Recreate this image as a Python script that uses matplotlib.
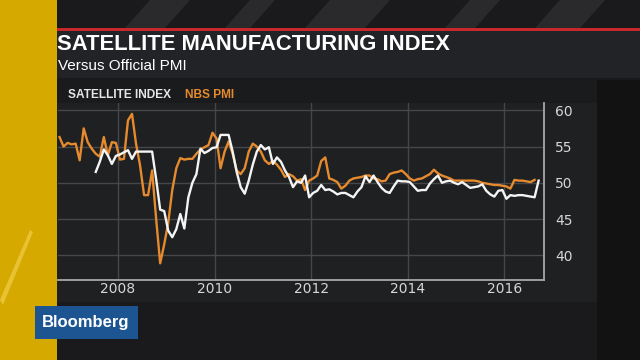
import numpy as np
import matplotlib as mpl
mpl.use('Agg')
import matplotlib.pyplot as plt
from matplotlib import font_manager
from matplotlib.patches import Rectangle, Polygon

# NBS PMI, monthly from Oct 2006 to Aug 2016
pmi_start = (2006, 10)
pmi = [56.3, 55.0, 55.5,
       55.3, 55.4, 53.1, 57.5, 55.6, 54.7, 54.0, 53.6, 56.3, 53.8, 55.6, 55.5,
       53.2, 53.3, 58.6, 59.5, 55.4, 52.4, 48.3, 48.3, 51.7, 45.0, 38.9, 41.5,
       44.5, 49.0, 52.0, 53.4, 53.2, 53.3, 53.3, 54.0, 54.6, 54.9, 55.2, 56.9,
       56.1, 52.0, 54.3, 55.7, 54.0, 51.7, 51.2, 52.0, 54.3, 55.4, 55.0, 54.3,
       53.1, 52.6, 53.0, 52.5, 51.8, 50.8, 51.2, 50.9, 50.3, 50.5, 49.0, 50.3,
       50.6, 51.0, 53.0, 53.5, 50.6, 50.4, 50.1, 49.2, 49.6, 50.3, 50.6, 50.7,
       50.8, 51.0, 51.0, 50.6, 50.5, 50.2, 50.3, 51.2, 51.4, 51.5, 51.7, 51.2,
       50.6, 50.3, 50.5, 50.6, 50.9, 51.2, 51.8, 51.3, 51.0, 50.8, 50.6, 50.3,
       50.3, 50.3, 50.3, 50.3, 50.3, 50.2, 50.0, 49.9, 49.8, 49.7, 49.7, 49.6,
       49.5, 49.2, 50.4, 50.3, 50.3, 50.2, 50.1, 50.4]

# Satellite manufacturing index, monthly from Jul 2007 to Sep 2016
sat_start = (2007, 7)
sat = [51.5, 52.9, 54.6, 53.8, 52.6, 53.7,
       53.9, 54.2, 54.5, 53.3, 54.3, 54.3, 54.3, 54.3, 54.3, 50.5, 46.3, 46.1,
       43.4, 42.5, 43.6, 45.7, 43.7, 48.0, 50.0, 51.2, 54.7, 54.1, 54.4, 54.8,
       54.9, 56.6, 56.6, 56.6, 54.3, 51.5, 49.4, 48.5, 50.3, 52.5, 54.3, 55.2,
       54.6, 54.9, 52.6, 53.5, 52.9, 51.7, 50.8, 49.4, 50.2, 50.0, 51.0, 48.0,
       48.6, 48.9, 49.7, 49.0, 49.1, 48.8, 48.4, 48.6, 48.6, 48.3, 48.0, 48.8,
       49.4, 50.9, 50.1, 51.0, 50.1, 49.3, 48.8, 48.6, 49.5, 50.3, 50.2, 50.2,
       50.1, 49.5, 48.9, 49.0, 49.0, 49.9, 50.5, 51.0, 50.0, 50.2, 50.3, 50.0,
       49.8, 50.1, 49.7, 49.3, 49.4, 49.5, 49.8, 48.9, 48.4, 48.1, 48.9, 49.0,
       47.8, 48.3, 48.2, 48.3, 48.3, 48.2, 48.1, 48.0, 50.3]

year_ticks = [2008, 2010, 2012, 2014, 2016]
value_ticks = [40, 45, 50, 55, 60]

title = "SATELLITE MANUFACTURING INDEX"
subtitle = "Versus Official PMI"
legend_labels = ["SATELLITE INDEX", "NBS PMI"]

def month_axis(start, n):
    # mid-month decimal years
    k = np.arange(n) + (start[1] - 1)
    return start[0] + (k + 0.5) / 12.0

names = set(f.name for f in font_manager.fontManager.ttflist)
narrow = 'Liberation Sans Narrow' if 'Liberation Sans Narrow' in names else 'Liberation Sans'

ORANGE = '#e58a2e'
WHITE = '#f4f4f4'
GRID = '#46474a'

fig = plt.figure(figsize=(6.4, 3.6), dpi=100)
fig.patch.set_facecolor('#1a1a1c')

# background layer in pixel coordinates
bg = fig.add_axes([0, 0, 1, 1])
bg.set_xlim(0, 640)
bg.set_ylim(360, 0)
bg.set_axis_off()

# top streaks
for x0, w in [(150, 40), (250, 25), (330, 60), (470, 30), (560, 45)]:
    bg.add_patch(Polygon([(x0, 0), (x0 + w, 0), (x0 + w - 25, 28), (x0 - 25, 28)],
                         closed=True, color='#2a2a2c', lw=0))
# right shade
bg.add_patch(Rectangle((597, 80), 43, 280, color='#121213', lw=0))
# title band
bg.add_patch(Rectangle((55, 29), 585, 49, color='#222326', lw=0))
bg.add_patch(Rectangle((55, 28), 585, 3, color='#c8282c', lw=0))
# chart panel
bg.add_patch(Rectangle((57, 80), 540, 222, color='#1f2022', lw=0))
bg.add_patch(Rectangle((57, 80), 540, 23, color='#1a1b1d', lw=0))
# yellow side bar
bg.add_patch(Rectangle((0, 0), 57, 360, color='#d5a900', lw=0))
bg.add_patch(Polygon([(0, 300), (30, 230), (33, 232), (3, 305)], closed=True,
                     color='#e8c233', lw=0))

bg.text(57, 45, title, color='white', fontsize=15.8, fontweight='bold',
        family=narrow, va='center', ha='left')
bg.text(58, 66, subtitle, color='white', fontsize=11, family=narrow,
        va='center', ha='left')

bg.text(68, 95, legend_labels[0], color='#e6e6e6', fontsize=8.6, fontweight='bold',
        family=narrow, va='center', ha='left')
bg.text(185, 95, legend_labels[1], color=ORANGE, fontsize=8.6, fontweight='bold',
        family=narrow, va='center', ha='left')

# Bloomberg logo
bg.add_patch(Rectangle((35, 306), 103, 33, color='#1d5592', lw=0))
bg.text(86, 322.5, "Bloomberg", color='white', fontsize=12, fontweight='bold',
        family=narrow, va='center', ha='center')

# data axes
ax = fig.add_axes([58 / 640, (360 - 280) / 360, (544 - 58) / 640, (280 - 103) / 360])
ax.set_facecolor('none')
ax.plot(month_axis(sat_start, len(sat)), sat, color=WHITE, lw=1.7, zorder=3)
ax.plot(month_axis(pmi_start, len(pmi)), pmi, color=ORANGE, lw=1.7, zorder=2)

ax.set_xlim(2006.76, 2016.82)
ax.set_ylim(36.6, 61.0)
ax.set_xticks(year_ticks)
ax.set_yticks(value_ticks)
ax.yaxis.tick_right()
ax.tick_params(length=0, colors='#d6d6d6', labelsize=10)
ax.tick_params(axis='y', pad=8)
ax.tick_params(axis='x', pad=1.5)
ax.grid(True, color=GRID, lw=1)
for s in ['top', 'left']:
    ax.spines[s].set_visible(False)
for s in ['right', 'bottom']:
    ax.spines[s].set_color('#a8a8a8')
    ax.spines[s].set_linewidth(1.3)

fig.savefig('out.png', dpi=100, facecolor=fig.get_facecolor())
